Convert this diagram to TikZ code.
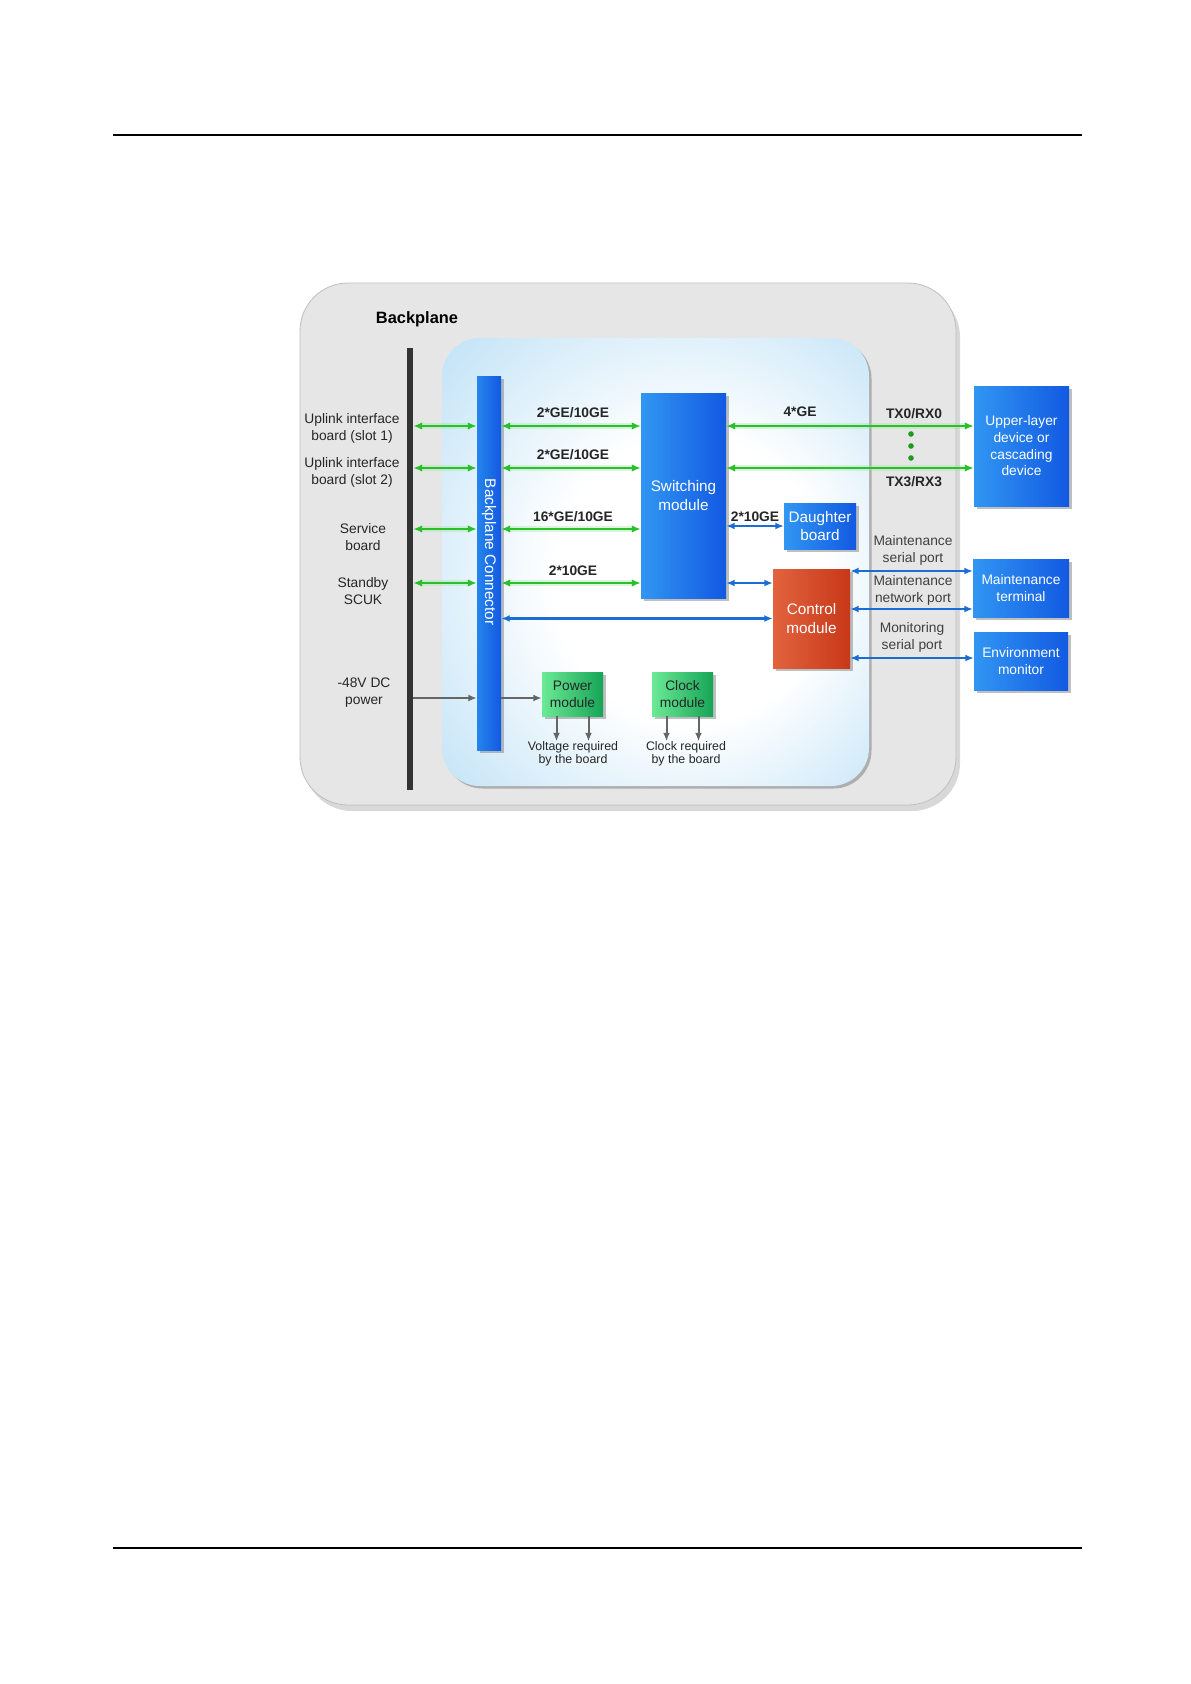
\documentclass[tikz,border=0pt]{standalone}
\usepackage{fontspec}
\setmainfont{Liberation Sans}
\usetikzlibrary{arrows.meta,shadows}
\definecolor{panelgrey}{HTML}{E6E6E6}
\definecolor{boardblue}{HTML}{B2DCF5}
\definecolor{modlight}{HTML}{3196F2}
\definecolor{moddark}{HTML}{1259E2}
\definecolor{connblue}{HTML}{2585EC}
\definecolor{ctrllight}{HTML}{E2633F}
\definecolor{ctrldark}{HTML}{C73818}
\definecolor{pwrlight}{HTML}{6BEA95}
\definecolor{pwrdark}{HTML}{17A457}
\definecolor{linkgreen}{HTML}{29C129}
\definecolor{linkblue}{HTML}{1A6DD3}
\definecolor{dotgreen}{HTML}{1C9A1C}
\newcommand{\fsz}[2]{\fontsize{#1}{#2}\selectfont}
\pgfdeclareradialshading{boardglow}{\pgfpoint{6bp}{-3bp}}{%
  color(0bp)=(white); color(16bp)=(white); color(42bp)=(boardblue); color(50bp)=(boardblue)}

\begin{document}
\begin{tikzpicture}[x=1pt, y=-1pt,
  modbox/.style={inner sep=0pt, align=center, text=white, font=\fsz{13.8}{16.7},
    left color=modlight, right color=moddark,
    drop shadow={opacity=0.5, shadow xshift=3pt, shadow yshift=-3pt}},
  bigmod/.style={modbox, font=\fsz{15.3}{18.5}},
  ctrlbox/.style={bigmod, left color=ctrllight, right color=ctrldark},
  pwrbox/.style={modbox, text=black!85, left color=pwrlight, right color=pwrdark},
  sidetext/.style={align=center, inner sep=0pt, text=black!85, font=\fsz{13.8}{17}},
  ratetext/.style={inner sep=0pt, text=black!85, font=\bfseries\fsz{13.8}{17}},
  smalltext/.style={align=center, inner sep=0pt, text=black!85, font=\fsz{12.4}{13.5}},
  glink/.style={{Latex[length=9pt,width=7.5pt]}-{Latex[length=9pt,width=7.5pt]}, linkgreen, line width=2.5pt,
    preaction={draw=linkgreen!45, line width=5.5pt, opacity=0.35, -, shorten <=7pt, shorten >=7pt}},
  blink/.style={{Latex[length=8.5pt,width=7pt]}-{Latex[length=8.5pt,width=7pt]}, linkblue, line width=2.1pt},
  plink/.style={-{Latex[length=8.5pt,width=7pt]}, black!60, line width=2pt}]

  % Page and rules
  \fill[white] (0,0) rectangle (1191,1684);
  \useasboundingbox (0,0) rectangle (1191,1684);
  \draw[line width=1.2pt] (113,135) -- (1082,135);
  \draw[line width=1.2pt] (113,1548) -- (1082,1548);

  % Backplane and board panels
  \node[fill=panelgrey, draw=black!25, line width=0.8pt, rounded corners=48pt,
    minimum width=656pt, minimum height=522pt,
    drop shadow={opacity=0.3, shadow xshift=4pt, shadow yshift=-6pt}] (bp) at (628,544) {};
  \node[font=\bfseries\fsz{16.4}{19}, inner sep=0pt] (bptitle) at (417,319) {Backplane};
  \node[shading=boardglow, rounded corners=38pt,
    minimum width=427pt, minimum height=448pt,
    drop shadow={opacity=0.55, shadow xshift=2.5pt, shadow yshift=-2.5pt}] (board) at (655.5,562) {};

  % Bus bar and backplane connector
  \node[fill=black!80, inner sep=0pt, minimum width=6pt, minimum height=442pt] (bar) at (410,569) {};
  \node[modbox, left color=connblue, right color=moddark, minimum width=24pt, minimum height=374pt] (conn) at (489,563) {};
  \node[rotate=-90, text=white, font=\fsz{15.3}{18.5}, inner sep=0pt] (conntext) at (489,552) {Backplane Connector};

  % Modules
  \node[bigmod, minimum width=85pt, minimum height=205pt] (sw) at (683.5,495.5) {Switching\\module};
  \node[bigmod, minimum width=72pt, minimum height=46pt] (db) at (820,526) {Daughter\\board};
  \node[ctrlbox, minimum width=77pt, minimum height=99pt] (ctrl) at (811.5,618.5) {Control\\module};
  \node[pwrbox, minimum width=61pt, minimum height=44pt] (pm) at (572.5,694) {Power\\module};
  \node[pwrbox, minimum width=61pt, minimum height=44pt] (cm) at (682.5,694) {Clock\\module};

  % External devices
  \node[modbox, minimum width=95pt, minimum height=120pt] (up) at (1021.5,446) {Upper-layer\\device or\\cascading\\device};
  \node[modbox, minimum width=96pt, minimum height=58pt] (mt) at (1021,588) {Maintenance\\terminal};
  \node[modbox, minimum width=94pt, minimum height=58pt] (em) at (1021,661) {Environment\\monitor};

  % Row levels
  \coordinate (r1) at (0,426);
  \coordinate (r2) at (0,468);
  \coordinate (r3) at (0,529);
  \coordinate (r4) at (0,583);
  \coordinate (rpw) at (0,698);
  \coordinate (rms) at (0,571);
  \coordinate (rmn) at (0,609);
  \coordinate (rmo) at (0,658);

  % Left side labels
  \node[sidetext] (slot1) at (352,428) {Uplink interface\\board (slot 1)};
  \node[sidetext] (slot2) at (352,472) {Uplink interface\\board (slot 2)};
  \node[sidetext] (svc) at (363,537) {Service\\board};
  \node[sidetext] (scuk) at (363,591) {Standby\\SCUK};
  \node[sidetext] (dc) at (364,693) {-48V DC\\power};

  % Service links through the connector
  \foreach \r in {r1,r2,r3,r4} {
    \draw[glink] (bar.east |- \r) -- (conn.west |- \r);
    \draw[glink] (conn.east |- \r) -- (sw.west |- \r);
  }
  \node[ratetext] (rate1) at (573,413) {2*GE/10GE};
  \node[ratetext] (rate2) at (573,455) {2*GE/10GE};
  \node[ratetext] (rate3) at (573,517) {16*GE/10GE};
  \node[ratetext] (rate4) at (573,571) {2*10GE};

  % Uplinks to the upper-layer device
  \draw[glink] (sw.east |- r1) -- (up.west |- r1);
  \draw[glink] (sw.east |- r2) -- (up.west |- r2);
  \node[ratetext] (rate5) at (800,412) {4*GE};
  \node[ratetext] (tx0) at (914,414) {TX0/RX0};
  \node[ratetext] (tx3) at (914,482) {TX3/RX3};
  \foreach \y in {434,446,458}
    \fill[dotgreen] (911,\y) circle (2.8pt);

  % Daughter board and control links
  \draw[blink] (sw.east |- db.west) -- (db.west);
  \node[ratetext] (rate6) at (755,517) {2*10GE};
  \draw[blink] (sw.east |- r4) -- (ctrl.west |- r4);
  \draw[blink] (conn.east |- ctrl.west) -- (ctrl.west);

  % Ports of the control module
  \draw[blink] (ctrl.east |- rms) -- (mt.west |- rms);
  \draw[blink] (ctrl.east |- rmn) -- (mt.west |- rmn);
  \draw[blink] (ctrl.east |- rmo) -- (em.west |- rmo);
  \node[sidetext, text=black!75] (msp) at (913,550) {Maintenance\\serial port};
  \node[sidetext, text=black!75] (mnp) at (913,590) {Maintenance\\network port};
  \node[sidetext, text=black!75] (mop) at (912,637) {Monitoring\\serial port};

  % Power feed and outputs
  \draw[plink] (bar.east |- rpw) -- (conn.west |- rpw);
  \draw[plink] (conn.east |- rpw) -- (pm.west |- rpw);
  \node[smalltext] (vlbl) at (573,754) {Voltage required\\by the board};
  \node[smalltext] (clbl) at (686,754) {Clock required\\by the board};
  \foreach \dx in {-16,16} {
    \draw[plink] ([xshift=\dx pt]pm.south) -- ([xshift=\dx pt]pm.south |- vlbl.north);
    \draw[plink] ([xshift=\dx pt]cm.south) -- ([xshift=\dx pt]cm.south |- clbl.north);
  }

\end{tikzpicture}
\end{document}
